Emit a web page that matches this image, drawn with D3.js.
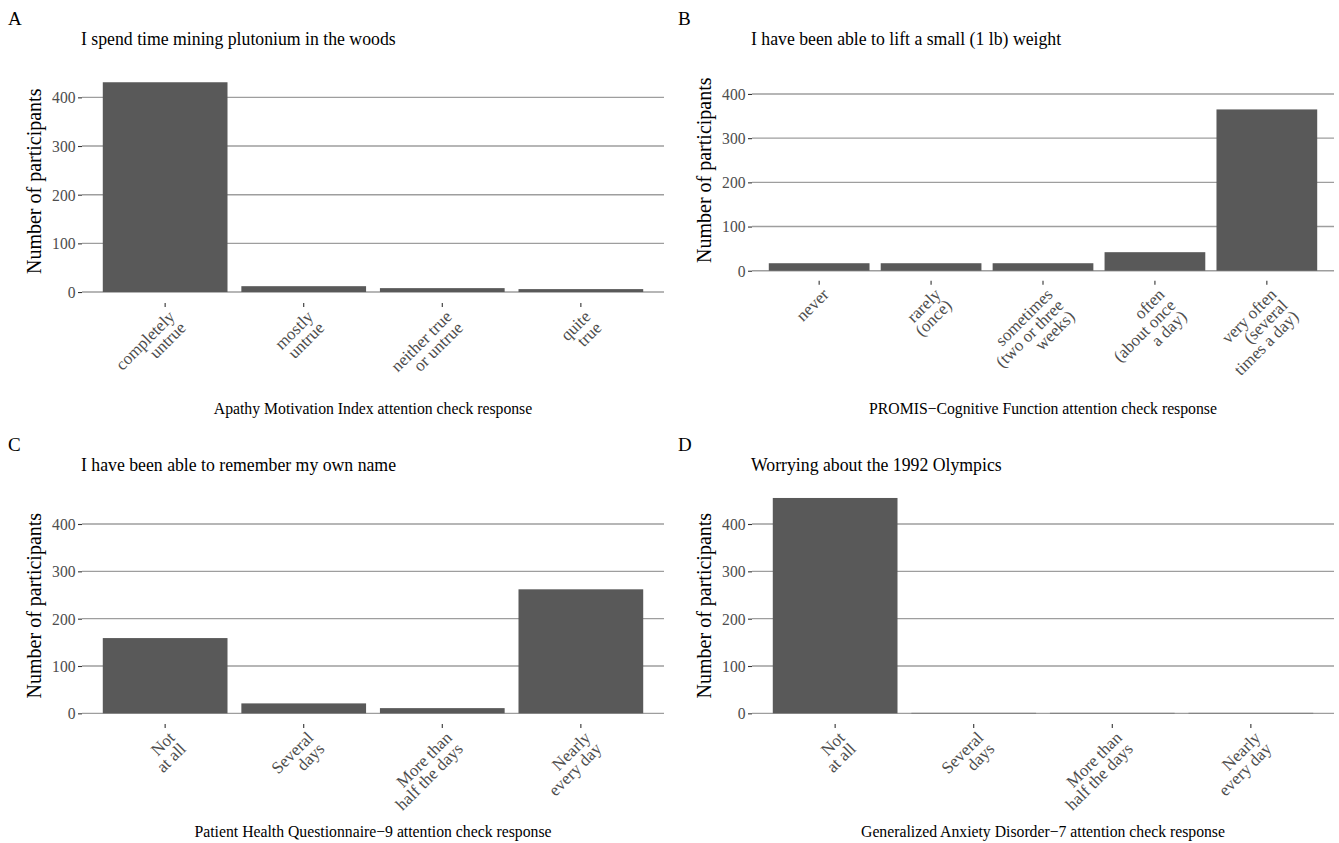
<!DOCTYPE html>
<html>
<head>
<meta charset="utf-8">
<script src="https://cdn.jsdelivr.net/npm/d3@7"></script>
<style>
  html, body { margin: 0; padding: 0; background: #fff; }
  svg { display: block; }
  text { font-family: "Liberation Serif", "Times New Roman", serif; }
</style>
</head>
<body>
<svg id="chart" width="1339" height="843"></svg>
<script>
// ---------------- data ----------------
const panelLetters = ["A", "B", "C", "D"];
const panelTitles = [
  "I spend time mining plutonium in the woods",
  "I have been able to lift a small (1 lb) weight",
  "I have been able to remember my own name",
  "Worrying about the 1992 Olympics"
];
const xAxisTitles = [
  "Apathy Motivation Index attention check response",
  "PROMIS\u2212Cognitive Function attention check response",
  "Patient Health Questionnaire\u22129 attention check response",
  "Generalized Anxiety Disorder\u22127 attention check response"
];
const yAxisTitle = "Number of participants";

const categoriesA = ["completely\nuntrue", "mostly\nuntrue", "neither true\nor untrue", "quite\ntrue"];
const valuesA = [431, 12, 8, 6];

const categoriesB = ["never", "rarely\n(once)", "sometimes\n(two or three\nweeks)", "often\n(about once\na day)", "very often\n(several\ntimes a day)"];
const valuesB = [17, 17, 17, 42, 365];

const categoriesC = ["Not\nat all", "Several\ndays", "More than\nhalf the days", "Nearly\nevery day"];
const valuesC = [159, 21, 11, 262];

const categoriesD = ["Not\nat all", "Several\ndays", "More than\nhalf the days", "Nearly\nevery day"];
const valuesD = [455, 1, 1, 1];

const yTickValues = [0, 100, 200, 300, 400];
const yLimits = [0, 455];

// ---------------- layout ----------------
const panels = [
  { cats: categoriesA, vals: valuesA, left: 82,  right: 664,  top: 59.5, bottom: 303.1 },
  { cats: categoriesB, vals: valuesB, left: 752, right: 1334, top: 59.6, bottom: 280.8 },
  { cats: categoriesC, vals: valuesC, left: 82,  right: 664,  top: 487.2, bottom: 724.1 },
  { cats: categoriesD, vals: valuesD, left: 752, right: 1334, top: 487.2, bottom: 724.1 }
];
const letterPos = [[8, 25], [678, 25], [8, 451], [678, 451]];
const titleY = [45, 45, 471, 471];
const xTitleY = [414, 414, 837, 837];

const svg = d3.select("#chart");
const barColor = "#595959";
const gridColor = "#9e9e9e";
const tickColor = "#333333";
const tickLabelColor = "#4d4d4d";

const span = yLimits[1] - yLimits[0];
const yDomain = [yLimits[0] - 0.05 * span, yLimits[1] + 0.05 * span];

panels.forEach((p, i) => {
  const g = svg.append("g");
  const x = d3.scaleBand().domain(p.cats).range([p.left, p.right])
    .paddingInner(0.1).paddingOuter(0.15);
  const y = d3.scaleLinear().domain(yDomain).range([p.bottom, p.top]);

  // gridlines
  g.append("g").selectAll("line").data(yTickValues).join("line")
    .attr("x1", p.left).attr("x2", p.right)
    .attr("y1", d => y(d)).attr("y2", d => y(d))
    .attr("stroke", gridColor).attr("stroke-width", 1.4);

  // bars
  g.append("g").selectAll("rect").data(p.vals).join("rect")
    .attr("x", (d, j) => x(p.cats[j]))
    .attr("width", x.bandwidth())
    .attr("y", d => y(d))
    .attr("height", d => y(0) - y(d))
    .attr("fill", barColor);

  // y axis
  const yAxis = d3.axisLeft(y).tickValues(yTickValues).tickSize(4).tickPadding(3);
  const ya = g.append("g").attr("transform", `translate(${p.left},0)`).call(yAxis);
  ya.select(".domain").remove();
  ya.selectAll(".tick line").attr("stroke", tickColor).attr("stroke-width", 1.1);
  ya.selectAll(".tick text").attr("fill", tickLabelColor)
    .attr("transform", "scale(0.92,1)")
    .style("font-family", "Liberation Serif, serif").style("font-size", "17px");

  // x axis ticks
  const xAxis = d3.axisBottom(x).tickSize(4).tickFormat("");
  const xa = g.append("g").attr("transform", `translate(0,${p.bottom})`).call(xAxis);
  xa.select(".domain").remove();
  xa.selectAll(".tick line").attr("stroke", tickColor).attr("stroke-width", 1.1);

  // x tick labels (rotated 45, multi-line, right-justified)
  const labG = g.append("g");
  p.cats.forEach(c => {
    const cx = x(c) + x.bandwidth() / 2;
    const t = labG.append("text")
      .attr("transform", `translate(${cx + 2},${p.bottom + 6}) rotate(-45)`)
      .attr("text-anchor", "end")
      .attr("fill", tickLabelColor)
      .style("font-size", "17px");
    c.split("\n").forEach((line, k) => {
      t.append("tspan").attr("x", 0).attr("dy", k === 0 ? "0.72em" : "0.92em").text(line);
    });
  });

  // y axis title
  g.append("text")
    .attr("transform", `translate(${p.left - 41},${(p.top + p.bottom) / 2}) rotate(-90)`)
    .attr("text-anchor", "middle")
    .attr("fill", "#000")
    .style("font-size", "20px")
    .text(yAxisTitle);

  // x axis title
  g.append("text")
    .attr("transform", `translate(${(p.left + p.right) / 2},${xTitleY[i]}) scale(0.9,1)`)
    .attr("text-anchor", "middle")
    .attr("fill", "#000")
    .style("font-size", "17.5px")
    .text(xAxisTitles[i]);

  // panel title
  g.append("text")
    .attr("transform", `translate(${p.left - 1},${titleY[i]}) scale(0.91,1)`)
    .attr("fill", "#000")
    .style("font-size", "19.5px")
    .text(panelTitles[i]);

  // panel letter
  g.append("text")
    .attr("x", letterPos[i][0]).attr("y", letterPos[i][1])
    .attr("fill", "#000")
    .style("font-size", "19px")
    .text(panelLetters[i]);
});
</script>
</body>
</html>
